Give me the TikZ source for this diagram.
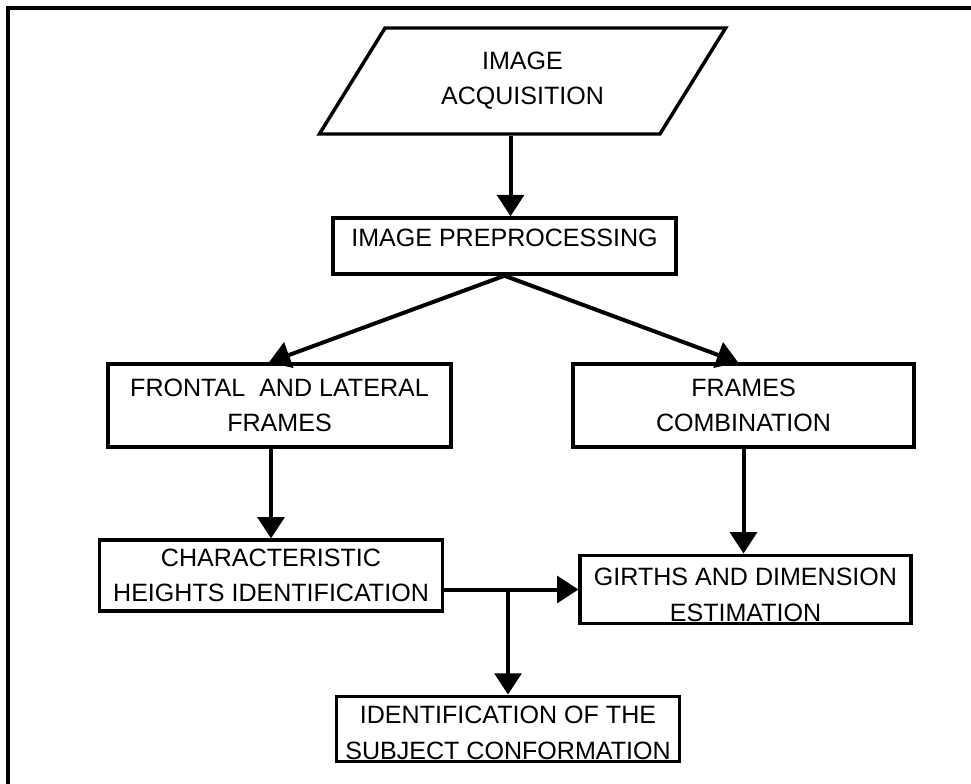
\documentclass[tikz,border=0pt]{standalone}
\usepackage{fontspec}
\setmainfont{Liberation Sans}
\usetikzlibrary{positioning,shapes.geometric,arrows.meta}

\begin{document}
\begin{tikzpicture}[x=0.75pt, y=-0.75pt,
    every node/.style={draw, line width=2.6pt, align=center, inner sep=2pt, font=\fontsize{18.8}{26.3}\selectfont},
    boite/.style={rectangle, minimum width=257pt},
    fleche/.style={line width=3pt, -{Triangle[length=16pt, width=20pt]}}]
        % Cadre
        \useasboundingbox (0,0) rectangle (971,784);
        \clip (0,0) rectangle (971,784);
        \draw[line width=2.3pt] (8,8) rectangle (990,800);

        % Blocs (positions en pixels)
        \node[trapezium, trapezium left angle=57.3, trapezium right angle=122.7, trapezium stretches=true,
              minimum width=305pt, minimum height=79.5pt] (acq) at (522.5,81) {IMAGE\\ACQUISITION};
        \node[boite, minimum height=42pt, text height=13.5pt, text depth=12pt] (pre) at (504.5,246) {IMAGE PREPROCESSING};
        \node[boite, minimum height=62pt] (front) at (279.5,405.5) {FRONTAL\ \ AND LATERAL\\FRAMES};
        \node[boite, minimum width=256pt, minimum height=62pt] (comb) at (743.5,405.5) {FRAMES\\COMBINATION};
        \node[boite, minimum height=53pt] (char) at (271,575.5) {CHARACTERISTIC\\HEIGHTS IDENTIFICATION};
        \node[boite, minimum width=248pt, minimum height=49pt, text height=47.3pt, text depth=0pt] (girth) at (745.5,589.5) {GIRTHS AND DIMENSION\\ESTIMATION};
        \node[boite, minimum height=48pt, text height=45pt, text depth=0pt] (id) at (508,729) {IDENTIFICATION OF THE\\SUBJECT CONFORMATION};

        % Fleches
        \draw[fleche] ([xshift=-9pt]acq.south) -- ([xshift=-9pt]acq.south |- pre.north);
        \draw[fleche] (pre.south) -- ([xshift=-8pt]front.north);
        \draw[fleche] (pre.south) -- ([xshift=-4pt]comb.north);
        \draw[fleche] (front.south -| char.north) -- (char.north);
        \draw[fleche] (comb.south) -- (comb.south |- girth.north);
        \draw[fleche] (char.east |- girth.west) -- (girth.west);
        \coordinate (embr) at (id.north |- girth.west);
        \draw[fleche] (embr) -- (id.north);
    \end{tikzpicture}
\end{document}
